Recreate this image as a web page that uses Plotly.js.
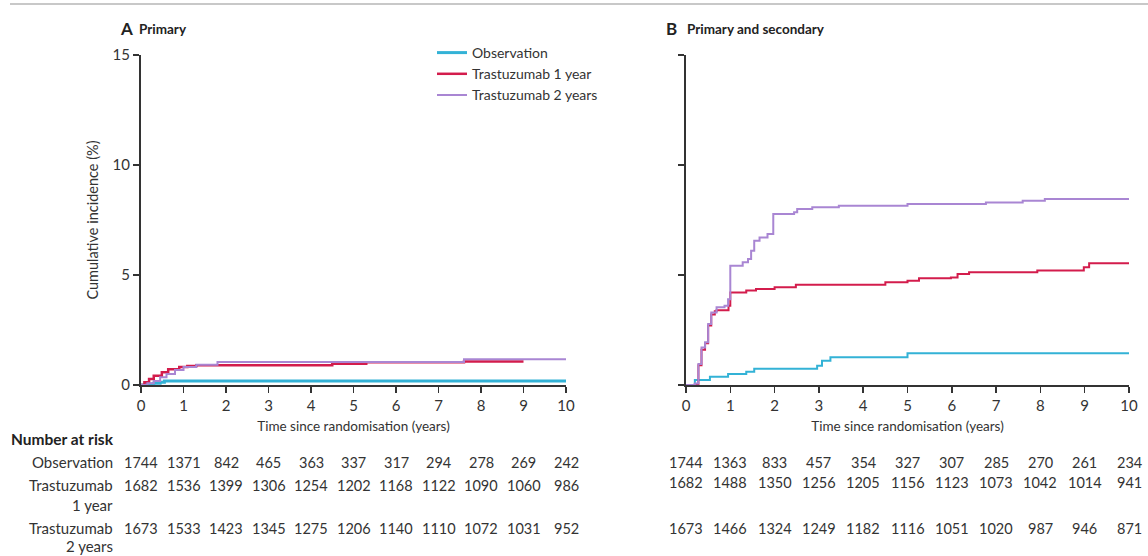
<!DOCTYPE html>
<html>
<head>
<meta charset="utf-8">
<script src="https://cdn.plot.ly/plotly-3.0.1.min.js"></script>
<style>html,body{margin:0;padding:0;background:#fff;}#chart{width:1148px;height:556px;}</style>
</head>
<body>
<div id="chart"></div>
<script>
// ---- Data ----
const seriesNames = ["Observation", "Trastuzumab 1 year", "Trastuzumab 2 years"];
const riskRowLabels = ["Observation", "Trastuzumab", "Trastuzumab"];
const riskRowSubLabels = ["", "1 year", "2 years"];
const riskYears = [0, 1, 2, 3, 4, 5, 6, 7, 8, 9, 10];

// Panel A: Primary (cumulative incidence %, step functions)
const obsA_t = [0, 0.15, 0.3, 0.45, 0.55, 10];
const obsA_y = [0, 0.04, 0.08, 0.12, 0.18, 0.18];
const t1A_t = [0, 0.08, 0.19, 0.3, 0.49, 0.64, 0.9, 1.09, 1.3, 4.5, 5.3, 7.6, 9.0];
const t1A_y = [0, 0.12, 0.27, 0.42, 0.58, 0.72, 0.82, 0.86, 0.9, 0.97, 1.03, 1.07, 1.07];
const t2A_t = [0, 0.15, 0.3, 0.45, 0.6, 0.8, 1.0, 1.3, 1.8, 7.6, 10];
const t2A_y = [0, 0.08, 0.18, 0.35, 0.5, 0.68, 0.82, 0.92, 1.04, 1.17, 1.17];

// Panel B: Primary and secondary
const obsB_t = [0, 0.2, 0.54, 0.95, 1.36, 1.54, 2.96, 3.07, 3.26, 5.0, 10];
const obsB_y = [0, 0.23, 0.37, 0.5, 0.6, 0.74, 0.88, 1.1, 1.26, 1.44, 1.44];
const t1B_t = [0, 0.2, 0.28, 0.35, 0.43, 0.5, 0.57, 0.65, 0.69, 0.96, 1.0, 1.36, 1.58, 2.0, 2.48, 4.5, 5.0, 5.26, 5.98, 6.13, 6.39, 7.93, 8.98, 9.1, 10];
const t1B_y = [0, 0.05, 0.9, 1.6, 1.9, 2.7, 3.2, 3.35, 3.4, 3.6, 4.2, 4.29, 4.36, 4.44, 4.56, 4.67, 4.74, 4.85, 4.89, 5.05, 5.12, 5.2, 5.35, 5.53, 5.53];
const t2B_t = [0, 0.2, 0.28, 0.35, 0.43, 0.5, 0.57, 0.69, 0.87, 0.95, 1.0, 1.28, 1.4, 1.47, 1.54, 1.66, 1.84, 1.97, 2.44, 2.51, 2.85, 3.45, 5.0, 6.77, 7.6, 8.1, 10];
const t2B_y = [0, 0.07, 0.95, 1.7, 1.94, 2.77, 3.3, 3.53, 3.6, 3.9, 5.42, 5.58, 5.73, 6.1, 6.56, 6.7, 6.86, 7.77, 7.85, 8.0, 8.08, 8.15, 8.23, 8.3, 8.38, 8.45, 8.5];

// Number at risk
const riskA_obs = [1744, 1371, 842, 465, 363, 337, 317, 294, 278, 269, 242];
const riskA_t1 = [1682, 1536, 1399, 1306, 1254, 1202, 1168, 1122, 1090, 1060, 986];
const riskA_t2 = [1673, 1533, 1423, 1345, 1275, 1206, 1140, 1110, 1072, 1031, 952];
const riskB_obs = [1744, 1363, 833, 457, 354, 327, 307, 285, 270, 261, 234];
const riskB_t1 = [1682, 1488, 1350, 1256, 1205, 1156, 1123, 1073, 1042, 1014, 941];
const riskB_t2 = [1673, 1466, 1324, 1249, 1182, 1116, 1051, 1020, 987, 946, 871];

// ---- Styling ----
const W = 1148, H = 556;
const FONT = "Lato, 'Open Sans', sans-serif";
const colors = ["#33b2d6", "#d31c4c", "#a986d3"];
const px = v => v / W;
const py = v => 1 - v / H;

function trace(t, y, i, xa, ya, show, w) {
  return {
    x: t, y: y, type: "scatter", mode: "lines", name: seriesNames[i],
    line: {color: colors[i], width: w, shape: "hv"},
    xaxis: xa, yaxis: ya, showlegend: show, hoverinfo: "skip"
  };
}

const data = [
  trace(obsA_t, obsA_y, 0, "x", "y", true, 3),
  trace(t1A_t, t1A_y, 1, "x", "y", true, 2.5),
  trace(t2A_t, t2A_y, 2, "x", "y", true, 2),
  trace(obsB_t, obsB_y, 0, "x2", "y2", false, 2),
  trace(t1B_t, t1B_y, 1, "x2", "y2", false, 2),
  trace(t2B_t, t2B_y, 2, "x2", "y2", false, 2)
];

const xCommon = {
  range: [0, 10], tickvals: riskYears, ticks: "outside", ticklen: 6, tickwidth: 1.5,
  tickcolor: "#333", showline: true, linecolor: "#333", linewidth: 2,
  showgrid: false, zeroline: false, fixedrange: true,
  tickfont: {family: FONT, size: 15, color: "#333"},
  title: {text: "Time since randomisation (years)", font: {family: FONT, size: 13.5, color: "#333"}, standoff: 9}
};
const yCommon = {
  range: [0, 15], tickvals: [0, 5, 10, 15], ticks: "outside", ticklen: 6, tickwidth: 1.5,
  tickcolor: "#333", showline: true, linecolor: "#333", linewidth: 2,
  showgrid: false, zeroline: false, fixedrange: true,
  tickfont: {family: FONT, size: 15, color: "#333"}
};

const annotations = [];
function ann(text, x, y, xref, opts) {
  annotations.push(Object.assign({
    text: text, x: x, y: y, xref: xref, yref: "paper", showarrow: false,
    font: {family: FONT, size: 14, color: "#333"}, xanchor: "center", yanchor: "middle"
  }, opts || {}));
}

// Panel titles
ann("<b>A</b>", px(118), py(28), "paper", {xanchor: "left", font: {family: FONT, size: 17, color: "#222"}});
ann("<b>Primary</b>", px(137), py(29), "paper", {xanchor: "left", font: {family: FONT, size: 13.5, color: "#222"}});
ann("<b>B</b>", px(664), py(28), "paper", {xanchor: "left", font: {family: FONT, size: 17, color: "#222"}});
ann("<b>Primary and secondary</b>", px(685), py(29), "paper", {xanchor: "left", font: {family: FONT, size: 13.5, color: "#222"}});

// Number at risk table
ann("<b>Number at risk</b>", px(9), py(439), "paper", {xanchor: "left", font: {family: FONT, size: 15.5, color: "#222"}});
const rowY = [462, 485, 528];
const subY = [0, 505, 546];
for (let r = 0; r < 3; r++) {
  ann(riskRowLabels[r], px(115), py(rowY[r]), "paper", {xanchor: "right", font: {family: FONT, size: 15, color: "#333"}});
  if (riskRowSubLabels[r]) ann(riskRowSubLabels[r], px(115), py(subY[r]), "paper", {xanchor: "right", font: {family: FONT, size: 15, color: "#333"}});
}
const tablesA = [riskA_obs, riskA_t1, riskA_t2];
const tablesB = [riskB_obs, riskB_t1, riskB_t2];
for (let r = 0; r < 3; r++) {
  for (let k = 0; k < riskYears.length; k++) {
    ann(String(tablesA[r][k]), riskYears[k], py(rowY[r]), "x", {font: {family: FONT, size: 14.5, color: "#333"}});
    ann(String(tablesB[r][k]), riskYears[k], py(rowY[r] - (r === 1 ? 3 : 0)), "x2", {font: {family: FONT, size: 14.5, color: "#333"}});
  }
}

const layout = {
  width: W, height: H,
  margin: {l: 0, r: 0, t: 0, b: 0},
  paper_bgcolor: "#fff", plot_bgcolor: "#fff",
  font: {family: FONT, color: "#333"},
  showlegend: true,
  legend: {
    x: px(432), y: py(37), xanchor: "left", yanchor: "top",
    font: {family: FONT, size: 14, color: "#333"},
    bgcolor: "rgba(0,0,0,0)", itemwidth: 30, tracegroupgap: 0
  },
  xaxis: Object.assign({}, xCommon, {domain: [px(141), px(566)], anchor: "y"}),
  yaxis: Object.assign({}, yCommon, {domain: [py(385), py(55)], anchor: "x",
    title: {text: "Cumulative incidence (%)", font: {family: FONT, size: 14.5, color: "#333"}, standoff: 11}}),
  xaxis2: Object.assign({}, xCommon, {domain: [px(686), px(1129)], anchor: "y2"}),
  yaxis2: Object.assign({}, yCommon, {domain: [py(385), py(55)], anchor: "x2", showticklabels: false}),
  annotations: annotations,
  shapes: [
    {type: "line", xref: "paper", yref: "paper", x0: px(10), x1: 1, y0: py(4), y1: py(4),
     line: {color: "#c8c8c8", width: 2}}
  ]
};

Plotly.newPlot("chart", data, layout, {staticPlot: true, displayModeBar: false});
</script>
</body>
</html>
